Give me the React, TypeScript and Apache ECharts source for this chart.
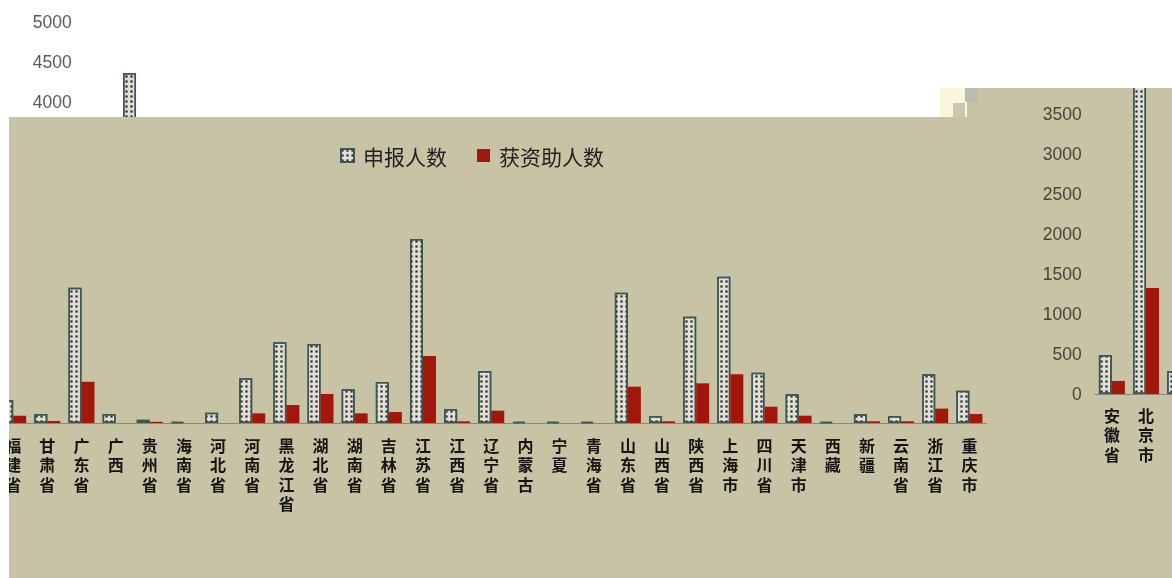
import React, { useEffect, useRef } from "react";
import * as echarts from "echarts";

const categories = ["安徽省","北京市","福建省","甘肃省","广东省","广西","贵州省","海南省","河北省","河南省","黑龙江省","湖北省","湖南省","吉林省","江苏省","江西省","辽宁省","内蒙古","宁夏","青海省","山东省","山西省","陕西省","上海市","四川省","天津市","西藏","新疆","云南省","浙江省","重庆市"];
const applicants = [488, 4362, 288, 112, 1690, 112, 40, 15, 129, 559, 1009, 988, 421, 513, 2300, 175, 650, 15, 15, 15, 1629, 88, 1329, 1829, 629, 359, 15, 109, 88, 610, 404];
const funded = [163, 1325, 90, 25, 515, 0, 15, 0, 0, 121, 225, 363, 121, 138, 838, 21, 154, 0, 0, 0, 454, 21, 496, 609, 204, 91, 0, 21, 21, 180, 113];
const yTicks = { min: 0, max: 5000, interval: 500 };
const seriesNames = ["申报人数", "获资助人数"];

const KHAKI = "#c8c3a5";
const BAND = 34.15;
const GRID_W = BAND * categories.length;

export default function App() {
  const ref = useRef<HTMLDivElement>(null);
  useEffect(() => {
    const chart = echarts.init(ref.current!, null, { renderer: "svg" });
    const appStyle = {
      color: "#e2e0d6",
      borderColor: "#3b5656",
      borderWidth: 1.5,
      decal: {
        symbol: "rect",
        symbolSize: 0.75,
        color: "#2e2e2e",
        dashArrayX: [2.5, 1.5],
        dashArrayY: [2.5, 1.5],
        rotation: 0,
      },
    };
    const fundStyle = { color: "#a3170a" };
    const catLabel = (margin: number, from: number, to: number) => ({
      interval: 0,
      formatter: (v: string, i: number) => (i >= from && i <= to ? v.split("").join("\n") : ""),
      fontSize: 16,
      lineHeight: 19.5,
      fontWeight: "bold",
      color: "#141414",
      margin,
      fontFamily: "Noto Sans CJK SC",
    });
    const valLabel = (color: string, lo: number, hi: number) => ({
      color,
      fontSize: 17.5,
      margin: 13,
      fontFamily: "Liberation Sans",
      formatter: (v: number) => (v >= lo && v <= hi ? String(v) : ""),
    });
    const mkSeries = (idx: number, z: number) => [
      {
        name: seriesNames[0], type: "bar", xAxisIndex: idx, yAxisIndex: idx,
        data: applicants, barWidth: 13, barGap: "0%", itemStyle: appStyle, z,
      },
      {
        name: seriesNames[1], type: "bar", xAxisIndex: idx, yAxisIndex: idx,
        data: funded, barWidth: 13, barGap: "0%", itemStyle: fundStyle, z,
      },
    ];
    chart.setOption({
      animation: false,
      grid: [
        { left: 84.8, top: 22, width: GRID_W, height: 400, outerBoundsMode: "none" },
        { left: -72.2, top: 23, width: GRID_W, height: 400, outerBoundsMode: "none" },
        { left: 1094.8, top: -6, width: GRID_W, height: 400, outerBoundsMode: "none" },
      ],
      legend: {
        data: seriesNames,
        left: 340,
        top: 145,
        padding: 0,
        icon: "rect",
        itemWidth: 13,
        itemHeight: 13,
        itemGap: 30,
        textStyle: { fontSize: 21, color: "#1f1f1f", fontFamily: "Noto Sans CJK SC", padding: [0, 0, 0, 4] },
        z: 6,
      },
      xAxis: [
        { gridIndex: 0, type: "category", data: categories, show: false },
        {
          gridIndex: 1, type: "category", data: categories, z: 6,
          axisLine: { lineStyle: { color: "#8a8878", width: 1.2 } },
          axisTick: { show: false }, axisLabel: catLabel(12, 2, 30),
        },
        {
          gridIndex: 2, type: "category", data: categories, z: 4,
          axisLine: { lineStyle: { color: "#8a8878", width: 1.2 } },
          axisTick: { show: false }, axisLabel: catLabel(11, 0, 1),
        },
      ],
      yAxis: [
        {
          gridIndex: 0, type: "value", ...yTicks, z: 1,
          axisLine: { show: false }, axisTick: { show: false }, splitLine: { show: false },
          axisLabel: valLabel("#5a5a5a", 4000, 5000),
        },
        { gridIndex: 1, type: "value", ...yTicks, show: false, splitLine: { show: false } },
        {
          gridIndex: 2, type: "value", ...yTicks, z: 4,
          axisLine: { show: false }, axisTick: { show: false }, splitLine: { show: false },
          axisLabel: valLabel("#45453a", 0, 3500),
        },
      ],
      series: [...mkSeries(0, 1), ...mkSeries(1, 6), ...mkSeries(2, 4)],
      graphic: [
        { type: "rect", z: 3, shape: { x: 940, y: 88, width: 232, height: 490 }, style: { fill: KHAKI } },
        { type: "rect", z: 5, shape: { x: 9, y: 117, width: 991, height: 461 }, style: { fill: KHAKI } },
        { type: "rect", z: 20, shape: { x: 0, y: 117, width: 9, height: 461 }, style: { fill: "#ffffff" } },
        { type: "rect", z: 20, shape: { x: 940, y: 0, width: 232, height: 88 }, style: { fill: "#ffffff" } },
        { type: "rect", z: 21, shape: { x: 940, y: 88, width: 27, height: 29 }, style: { fill: "#fbf7dc" } },
        { type: "rect", z: 22, shape: { x: 965, y: 88, width: 13, height: 14 }, style: { fill: "#bdbcb2" } },
        { type: "rect", z: 22, shape: { x: 953, y: 103, width: 12, height: 14 }, style: { fill: "#c9c6b2" } },
      ],
    });
    return () => chart.dispose();
  }, []);
  return <div ref={ref} style={{ position: "fixed", left: 0, top: 0, width: 1172, height: 578 }} />;
}
